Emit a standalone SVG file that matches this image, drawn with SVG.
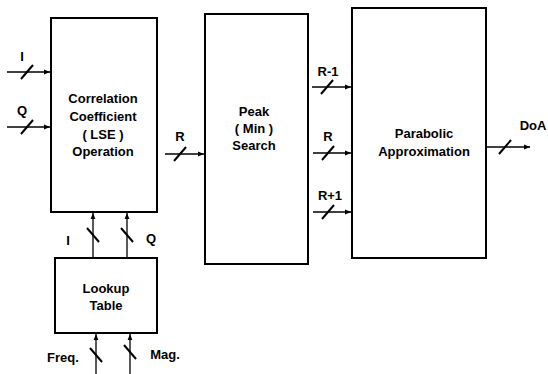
<svg xmlns="http://www.w3.org/2000/svg" width="548" height="374" viewBox="0 0 548 374">
<defs>
<marker id="ah" viewBox="0 0 10 10" refX="10" refY="5" markerWidth="7" markerHeight="6" orient="auto" markerUnits="userSpaceOnUse">
<path d="M0,1 L10,5 L0,9 z" fill="#000"/>
</marker>
</defs>
<style>
.box{fill:#fff;stroke:#000;stroke-width:2}
.t{font-family:"Liberation Sans",Arial,sans-serif;font-weight:bold;font-size:13px;fill:#000;text-anchor:middle}
.w{stroke:#000;stroke-width:1.3;fill:none;marker-end:url(#ah)}
.s{stroke:#000;stroke-width:2;fill:none}
</style>
<rect width="548" height="374" fill="#fff"/>
<g id="corr">
<rect class="box" x="51" y="18" width="106" height="194"/>
<text class="t" x="103" y="103">Correlation</text>
<text class="t" x="103" y="121">Coefficient</text>
<text class="t" x="103" y="139">( LSE )</text>
<text class="t" x="103" y="156">Operation</text>
</g>
<g id="peak">
<rect class="box" x="205" y="14" width="103" height="250"/>
<text class="t" x="254" y="116">Peak</text>
<text class="t" x="254" y="133">( Min )</text>
<text class="t" x="254" y="150">Search</text>
</g>
<g id="parab">
<rect class="box" x="352" y="8" width="134" height="250"/>
<text class="t" x="424" y="138">Parabolic</text>
<text class="t" x="424" y="156">Approximation</text>
</g>
<g id="lookup">
<rect class="box" x="55" y="258" width="102" height="75"/>
<text class="t" x="106" y="293">Lookup</text>
<text class="t" x="106" y="310">Table</text>
</g>
<g id="connectors">
<line class="w" x1="7" y1="72" x2="50" y2="72"/>
<line class="s" x1="21" y1="79" x2="33" y2="65"/>
<text class="t" x="22" y="61">I</text>
<line class="w" x1="7" y1="127" x2="50" y2="127"/>
<line class="s" x1="21" y1="134" x2="33" y2="120"/>
<text class="t" x="22" y="115">Q</text>
<line class="w" x1="165" y1="154" x2="204" y2="154"/>
<line class="s" x1="174" y1="161" x2="186" y2="147"/>
<text class="t" x="180" y="141">R</text>
<line class="w" x1="312" y1="87" x2="351" y2="87"/>
<line class="s" x1="321" y1="94" x2="333" y2="80"/>
<text class="t" x="328" y="76">R-1</text>
<line class="w" x1="313" y1="153" x2="351" y2="153"/>
<line class="s" x1="322" y1="160" x2="334" y2="146"/>
<text class="t" x="328" y="141">R</text>
<line class="w" x1="313" y1="212" x2="351" y2="212"/>
<line class="s" x1="322" y1="219" x2="334" y2="205"/>
<text class="t" x="330" y="200">R+1</text>
<line class="w" x1="487" y1="147" x2="530" y2="147"/>
<line class="s" x1="499" y1="154" x2="511" y2="140"/>
<text class="t" x="533" y="130">DoA</text>
<line class="w" x1="93" y1="257" x2="93" y2="213"/>
<line class="s" x1="87" y1="228" x2="99" y2="242"/>
<text class="t" x="68" y="245">I</text>
<line class="w" x1="127" y1="257" x2="127" y2="213"/>
<line class="s" x1="121" y1="228" x2="133" y2="242"/>
<text class="t" x="151" y="243">Q</text>
<line class="w" x1="96" y1="374" x2="96" y2="334"/>
<line class="s" x1="90" y1="348" x2="102" y2="362"/>
<text class="t" x="63" y="362">Freq.</text>
<line class="w" x1="130" y1="374" x2="130" y2="334"/>
<line class="s" x1="124" y1="345" x2="136" y2="359"/>
<text class="t" x="165" y="359">Mag.</text>
</g>
</svg>
